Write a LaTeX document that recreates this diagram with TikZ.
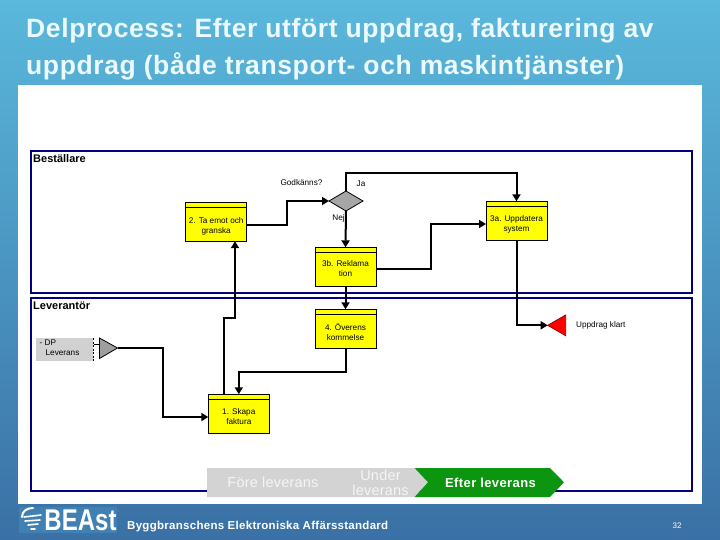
\documentclass[tikz,border=0pt]{standalone}
\usepackage{fontspec}
\setmainfont{Liberation Sans}
\usetikzlibrary{arrows.meta,positioning,calc}
\definecolor{lanec}{RGB}{0,0,128}
\definecolor{bgtop}{RGB}{90,184,220}
\definecolor{bgbot}{RGB}{58,112,165}
\definecolor{yel}{RGB}{255,255,0}
\definecolor{chevgray}{RGB}{211,211,211}
\definecolor{chevgreen}{RGB}{12,150,16}
\definecolor{titlec}{RGB}{236,250,255}
\definecolor{logoc}{RGB}{64,128,178}
\newfontfamily\spacedtitle[LetterSpace=2.3]{Liberation Sans Bold}
\newfontfamily\spacedchev[LetterSpace=1.5]{Liberation Sans}
\newfontfamily\spacedbold[LetterSpace=3]{Liberation Sans Bold}
\newfontfamily\spacedfoot[LetterSpace=2.5]{Liberation Sans Bold}
\tikzset{
  lanelabel/.style={font=\bfseries\fontsize{11}{12}\selectfont,anchor=west,inner sep=0pt},
  proc/.style={draw=black,line width=1pt,fill=yel,minimum width=61pt,minimum height=39pt,inner sep=0pt,outer sep=0pt,
    path picture={\draw[black,line width=0.8pt]
      ([yshift=-5.5pt]path picture bounding box.north west) -- ([yshift=-5.5pt]path picture bounding box.north east);}},
  proctext/.style={font=\fontsize{8.2}{10}\selectfont,align=center,inner sep=0pt},
  small/.style={font=\fontsize{8.2}{10}\selectfont,inner sep=0pt,align=left},
  conn/.style={draw=black,line width=2pt},
  arr/.style={conn,-{Triangle[length=7pt,width=8pt]}},
  titletext/.style={anchor=west,inner sep=0pt,text=titlec,font=\spacedtitle\fontsize{26.5}{36}\selectfont},
  chevtext/.style={font=\spacedchev\fontsize{14.5}{15}\selectfont,align=center,inner sep=0pt},
}
\begin{document}
\begin{tikzpicture}[x=1pt,y=-1pt]
\useasboundingbox (0,0) rectangle (720,540);
\shade[top color=bgtop,bottom color=bgbot,middle color=bgbot!50!bgtop] (0,0) rectangle (720,540);
\fill[white] (18,85) rectangle (702,504);
% title
\node[titletext] (t1) at (26,31) {Delprocess: Efter utfört uppdrag, fakturering av};
\node[titletext] (t2) at (26,66) {uppdrag (både transport- och maskintjänster)};
% lanes
\draw[draw=lanec,line width=2pt,fill=white] (31,151) rectangle (692,293);
\draw[draw=lanec,line width=2pt,fill=white] (31,298) rectangle (692,491);
\node[lanelabel] (l1) at (33,159) {Beställare};
\node[lanelabel] (l2) at (33,306) {Leverantör};
% processes
\node[proc] (p2) at (216.2,221.7) {};
\node[proc] (p3b) at (345.5,266.8) {};
\node[proc] (p4) at (345.5,328.8) {};
\node[proc] (p3a) at (516.5,220.8) {};
\node[proc] (p1) at (238.8,413.8) {};
\node[proctext] (tx2) at (216.2,226) {2. Ta emot och\\granska};
\node[proctext] (tx3b) at (345.5,269) {3b. Reklama\\tion};
\node[proctext] (tx4) at (345.5,332) {4. Överens\\kommelse};
\node[proctext] (tx3a) at (516.5,224) {3a. Uppdatera\\system};
\node[proctext] (tx1) at (238.8,417) {1. Skapa\\faktura};
% decision
\path[draw=black,line width=0.8pt,fill=black!35] (329,201) coordinate (dw) -- (346,191) coordinate (dn) -- (363,201) -- (346,211) coordinate (ds) -- cycle;
\node[small] (q) at (301.5,183) {Godkänns?};
\node[small] (ja) at (361,184) {Ja};
\node[small] (nej) at (338.5,218) {Nej};
% start
\node[fill=black!18,minimum width=57pt,minimum height=23pt,inner sep=0pt,outer sep=0pt] (dp) at (64.5,349.5) {};
\node[small] (dpt) at (62.5,347.5) {\hspace*{-6pt}- DP\\Leverans};
\draw[black,line width=0.8pt,dash pattern=on 2pt off 1.5pt] (93.5,338) coordinate (dtop) -- (93.5,361) coordinate (dbot);
\path[draw=black,line width=0.8pt,fill=black!38] (99.5,338) -- (117.5,348) coordinate (gtip) -- (99.5,358.5) -- cycle;
\draw[black,line width=0.8pt] (93.5,344) coordinate (st) -- (99.5,344) coordinate (st2);
% end
\path[draw=red!60!black,line width=0.8pt,fill=red] (547.7,325.3) coordinate (rtip) -- (565.7,315) -- (565.7,335.7) -- cycle;
\node[small,anchor=west] (uk) at (576,325.5) {Uppdrag klart};
% connectors
\coordinate (c1a) at (286.7,224.7);
\draw[arr] (c1a -| p2.east) -- (c1a) |- (dw);
\draw[arr] (dn) |- (516.5,172.7) -- (p3a.north);
\draw[arr] (ds) -- (p3b.north);
\coordinate (c2) at (431,268.7);
\draw[arr] (c2 -| p3b.east) -- (c2) |- (p3a.west |- 0,224);
\draw[arr] (p3b.south) -- (p4.north);
\draw[arr] (p3a.south) |- (rtip);
\coordinate (c3) at (238.8,371.7);
\draw[arr] (p4.south) |- (c3) -- (p1.north);
\coordinate (c4) at (223.5,318);
\coordinate (c5) at (235,318);
\draw[arr] (c4 |- p1.north) -- (c4) -- (c5) -- (c5 |- p2.south);
\coordinate (c6) at (163.3,348);
\draw[arr] (gtip) -- (c6) |- (p1.west |- 0,417);
% chevrons
\path[fill=chevgray] (207,468) coordinate (g1) -- (414.6,468) -- (428,482.3) -- (414.6,497) -- (207,497) -- cycle;
\path[fill=chevgreen] (414.6,468) -- (550,468) -- (564,482.3) -- (550,497) -- (414.6,497) -- (428,482.3) -- cycle;
\node[chevtext,text=white!96!black] (cf) at (273,482.5) {Före leverans};
\node[chevtext,text=white!96!black] (cu) at (380.5,482.5) {Under\\leverans};
\node[inner sep=0pt,text=white,font=\spacedbold\fontsize{13}{15}\selectfont] (ce) at (490.5,482.5) {Efter leverans};
% footer
\fill[logoc] (19,507) rectangle (117,533);
\draw[white,line width=2pt,line cap=round] (22,517) .. controls (22,511) and (27,508) .. (33,508);
\draw[white,line width=1.6pt,line cap=round] (24,517) -- (41,515) (25,521) -- (40,520) (28,525) -- (38,524) (31,529) -- (35,529);
\node[anchor=center,inner sep=0pt,text=white,xscale=.8,font=\bfseries\fontsize{30}{32}\selectfont] (bst) at (80.5,520.5) {BEAst};
\node[anchor=west,inner sep=0pt,text=white,font=\spacedfoot\fontsize{11.5}{13}\selectfont] (ft) at (127,527) {Byggbranschens Elektroniska Affärsstandard};
\node[inner sep=0pt,text=white,font=\fontsize{8}{10}\selectfont] (pg) at (677,526) {32};
\end{tikzpicture}
\end{document}
